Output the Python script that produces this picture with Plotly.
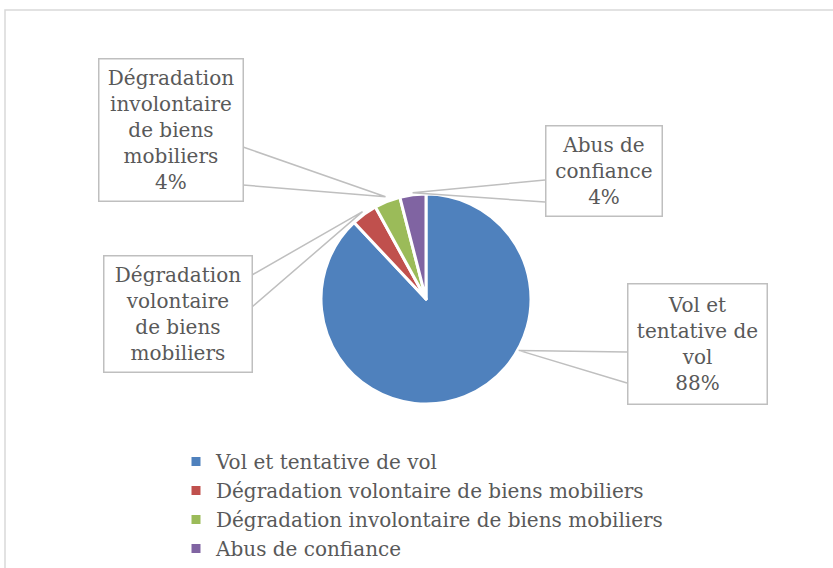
import math
import plotly.graph_objects as go

# ---------------- data ----------------
labels = [
    "Vol et tentative de vol",
    "Dégradation volontaire de biens mobiliers",
    "Dégradation involontaire de biens mobiliers",
    "Abus de confiance",
]
values = [88, 4, 4, 4]
callout_lines = [
    ["Vol et", "tentative de", "vol"],
    ["Dégradation", "volontaire", "de biens", "mobiliers"],
    ["Dégradation", "involontaire", "de biens", "mobiliers"],
    ["Abus de", "confiance"],
]
show_pct = [True, False, True, True]
colors = ["#4F81BD", "#C0504D", "#9BBB59", "#8064A2"]

# ---------------- layout geometry (pixels) ----------------
W, H = 833, 568
CX, CY, R = 426, 299, 105
FONT = "DejaVu Serif"
TXT = "#595959"
LINE = "#BFBFBF"

# callout boxes: x0, y0, x1, y1 ; side of pointer base ; base y's
boxes = [
    (627, 283, 767, 404, "left", 352, 383),
    (103, 255, 252, 372, "right", 275, 307),
    (98, 59, 243, 202, "right", 147, 185),
    (545, 125, 662, 216, "left", 180, 202),
]
tip_r = [106, 108, 110, 107]
tip_angle_override = {0: 119}


def px(x):
    return x / W


def py(y):
    return 1 - y / H


total = sum(values)
fig = go.Figure(
    go.Pie(
        labels=labels,
        values=values,
        sort=False,
        direction="clockwise",
        rotation=0,
        marker=dict(colors=colors, line=dict(color="white", width=3)),
        textinfo="none",
        hoverinfo="label+percent",
        domain=dict(x=[px(CX - R), px(CX + R)], y=[py(CY + R), py(CY - R)]),
    )
)

shapes = []
annotations = []
cum = 0
for i, v in enumerate(values):
    mid = (cum + v / 2) / total * 360
    cum += v
    ang = tip_angle_override.get(i, mid)
    t = math.radians(ang)
    tx = CX + tip_r[i] * math.sin(t)
    ty = CY - tip_r[i] * math.cos(t)
    x0, y0, x1, y1, side, ya, yb = boxes[i]
    bx = x0 if side == "left" else x1
    shapes.append(
        dict(
            type="path",
            xref="paper",
            yref="paper",
            path=f"M {px(bx)} {py(ya)} L {px(tx)} {py(ty)} L {px(bx)} {py(yb)}",
            line=dict(color=LINE, width=1.5),
            layer="above",
        )
    )
    lines = list(callout_lines[i])
    if show_pct[i]:
        lines.append(f"{round(v / total * 100)}%")
    annotations.append(
        dict(
            text="<br>".join(lines),
            xref="paper",
            yref="paper",
            x=px((x0 + x1) / 2),
            y=py((y0 + y1) / 2),
            xanchor="center",
            yanchor="middle",
            width=x1 - x0 - 2,
            height=y1 - y0 - 2,
            borderpad=0,
            bordercolor=LINE,
            borderwidth=1.5,
            bgcolor="white",
            showarrow=False,
            align="center",
            font=dict(family=FONT, size=20, color=TXT),
        )
    )

# outer chart border
shapes.append(
    dict(
        type="rect",
        xref="paper",
        yref="paper",
        x0=px(5),
        y0=py(10),
        x1=px(W + 10),
        y1=py(H + 10),
        line=dict(color="#D9D9D9", width=1.5),
        layer="below",
    )
)

fig.update_layout(
    width=W,
    height=H,
    margin=dict(l=0, r=0, t=0, b=0),
    paper_bgcolor="white",
    plot_bgcolor="white",
    shapes=shapes,
    annotations=annotations,
    showlegend=True,
    legend=dict(
        x=px(176),
        y=0,
        xanchor="left",
        yanchor="bottom",
        orientation="v",
        font=dict(family=FONT, size=20, color=TXT),
        bgcolor="rgba(0,0,0,0)",
        traceorder="normal",
    ),
)

fig.write_html(
    "out.html",
    config={"displayModeBar": False},
    post_script="document.body.style.margin='0';document.body.style.overflow='hidden';",
)
